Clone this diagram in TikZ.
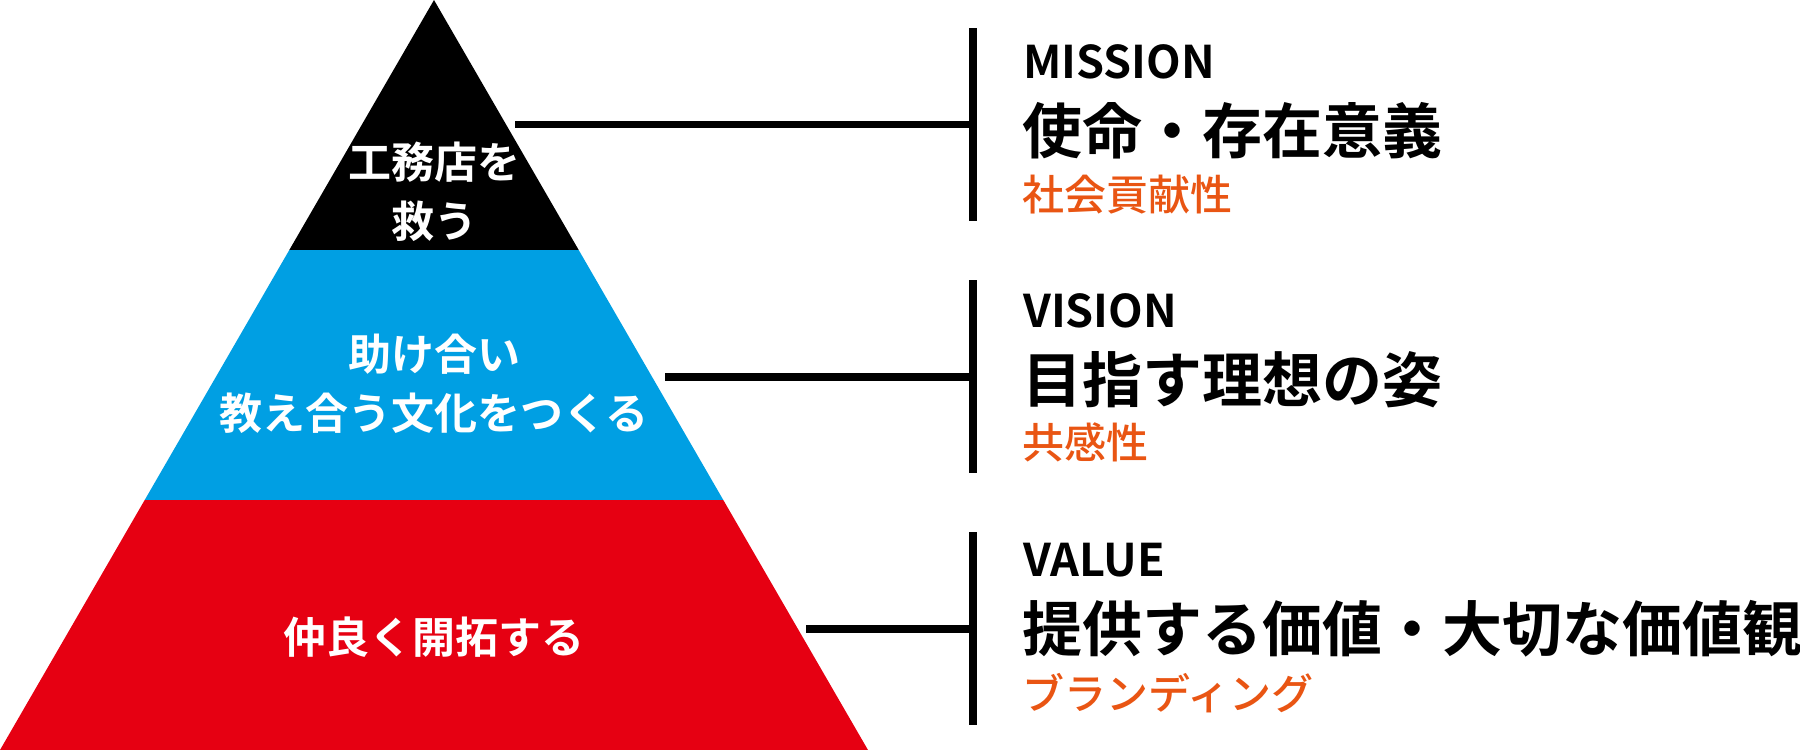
\documentclass[tikz,border=0pt]{standalone}
\usepackage{fontspec}
\newfontfamily\jp[BoldFont={Noto Sans CJK JP Bold}]{Noto Sans CJK JP}
\newfontfamily\jpmed{Noto Sans CJK JP Medium}
\definecolor{pblue}{HTML}{009FE3}
\definecolor{pred}{HTML}{E60012}
\definecolor{porange}{HTML}{E95513}
\begin{document}
\begin{tikzpicture}[x=1pt,y=-1pt,
  bar/.style={line width=8pt,black},
  conn/.style={line width=7.6pt,black},
  ptext/.style={text=white,font=\jp\bfseries\fontsize{43}{59}\selectfont,align=center,inner sep=0pt},
  head/.style={anchor=base west,inner sep=0pt,font=\jp\bfseries\fontsize{45}{45}\selectfont},
  title/.style={anchor=base west,inner sep=0pt,font=\jp\bfseries\fontsize{60}{60}\selectfont},
  sub/.style={anchor=base west,inner sep=0pt,text=porange,font=\jpmed\fontsize{42}{42}\selectfont}]
\useasboundingbox (0,0) rectangle (1800,750);
% pyramid bands
\fill[black] (434,0) -- (578.7,250) -- (289.3,250) -- cycle;
\fill[pblue] (289.3,250) -- (578.7,250) -- (723.3,500) -- (144.7,500) -- cycle;
\fill[pred] (144.7,500) -- (723.3,500) -- (868,750) -- (0,750) -- cycle;
% pyramid texts
\node[ptext] (t1) at (434,192) {工務店を\\救う};
\node[ptext] (t2) at (434,384) {助け合い\\教え合う文化をつくる};
\node[ptext] (t3) at (434,637) {仲良く開拓する};
% bars
\coordinate (b1t) at (973,28);  \coordinate (b1b) at (973,221);
\coordinate (b2t) at (973,280); \coordinate (b2b) at (973,473);
\coordinate (b3t) at (973,532); \coordinate (b3b) at (973,725);
\draw[bar] (b1t) -- (b1b);
\draw[bar] (b2t) -- (b2b);
\draw[bar] (b3t) -- (b3b);
% connectors
\coordinate (c1) at (515,124.5); \coordinate (e1) at (973,124.5);
\coordinate (c2) at (665,377); \coordinate (e2) at (973,377);
\coordinate (c3) at (806,629); \coordinate (e3) at (973,629);
\draw[conn] (c1) -- (e1);
\draw[conn] (c2) -- (e2);
\draw[conn] (c3) -- (e3);
% right texts
\node[head] (h1) at (1023,78) {MISSION};
\node[title] (m1) at (1022,153) {使命・存在意義};
\node[sub] (s1) at (1022,210) {社会貢献性};
\node[head] (h2) at (1023,327) {VISION};
\node[title] (m2) at (1022,402) {目指す理想の姿};
\node[sub] (s2) at (1022,458) {共感性};
\node[head] (h3) at (1023,576) {VALUE};
\node[title] (m3) at (1022,651) {提供する価値・大切な価値観};
\node[sub] (s3) at (1022,709) {ブランディング};
\end{tikzpicture}
\end{document}
